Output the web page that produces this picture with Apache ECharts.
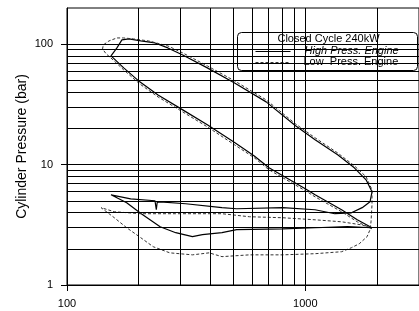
<!DOCTYPE html>
<html>
<head>
    <meta charset="utf-8">
    <script type="text/javascript" src="https://cdn.jsdelivr.net/npm/echarts@6/dist/echarts.min.js"></script>
    <style>
        body { margin: 0; background: #fff; }
        #main { width: 419px; height: 311px; }
    </style>
</head>
<body>
<div id="main"></div>
<script type="text/javascript">
    // High Press. Engine (solid) - volume / pressure
    var hpV = [1905, 1652, 1420, 1099, 1000, 704, 611, 505, 388, 306, 241, 202, 173, 153,
        162, 170, 182, 204, 234, 265, 306, 388, 505, 685, 910, 1099, 1367, 1606, 1799, 1905, 1869, 1733, 1561, 1329,
        1099, 804, 515, 447, 315, 246, 239, 237, 234, 185, 153,
        178, 205, 246, 286, 336, 370, 447, 515, 804, 1099, 1503, 1905];
    var hpP = [2.99, 3.48, 4.22, 5.61, 6.30, 9.41, 11.8, 15.3, 21.4, 28.5, 37.9, 48.7, 63.6, 80.0,
        93.2, 108.6, 110.7, 106.5, 102.5, 93.2, 81.5, 63.6, 47.7, 33.2, 21.0, 16.1, 12.06, 9.41, 7.48, 5.95, 4.91, 4.39, 3.98, 3.91,
        4.22, 4.39, 4.30, 4.39, 4.73, 4.91, 4.85, 4.22, 5.01, 5.20, 5.61,
        4.82, 3.91, 3.05, 2.72, 2.52, 2.62, 2.72, 2.88, 2.93, 2.99, 3.05, 2.99];

    // Low Press. Engine (dashed)
    var lpV = [1905, 1652, 1420, 1099, 1000, 704, 611, 505, 388, 306, 241, 202, 173, 153,
        146, 141, 142, 150, 162, 173, 190, 220, 265, 306, 388, 505, 685, 910, 1099, 1367, 1606, 1799, 1905,
        1905, 1887, 1869, 1816, 1684, 1561, 1420,
        1099, 804, 583, 447, 395, 336, 270, 230, 204, 178, 158, 139,
        158, 204, 286, 447, 583, 804, 1099, 1420, 1717, 1905];
    var lpP = [2.93, 3.35, 4.06, 5.40, 6.07, 9.06, 11.4, 14.6, 20.6, 27.4, 36.5, 46.8, 61.2, 76.8,
        83.1, 91.4, 98.7, 106.5, 112.8, 112.8, 110.7, 106.5, 96.8, 84.7, 66.1, 49.6, 34.5, 21.8, 16.7, 12.5, 9.78, 7.93, 6.18,
        4.64, 3.35, 2.88, 2.52, 2.20, 2.04, 1.89,
        1.82, 1.78, 1.78, 1.72, 1.85, 1.78, 1.85, 2.08, 2.47, 2.99, 3.62, 4.39,
        4.06, 3.91, 3.91, 3.91, 3.69, 3.62, 3.48, 3.35, 3.16, 2.99];

    // grid lines and tick labels
    var xGridVals = [200, 300, 400, 500, 600, 700, 800, 900, 1000, 2000];
    var yGridVals = [2, 3, 4, 5, 6, 7, 8, 9, 10, 20, 30, 40, 50, 60, 70, 80, 90, 100];
    var xTicks = [100, 1000];
    var yTicks = [1, 10, 100];

    function pairs(v, p) {
        var out = [];
        for (var i = 0; i < v.length; i++) {
            out.push([v[i], p[i]]);
        }
        return out;
    }

    var gridLines = [];
    for (var i = 0; i < xGridVals.length; i++) gridLines.push({xAxis: xGridVals[i]});
    for (var j = 0; j < yGridVals.length; j++) gridLines.push({yAxis: yGridVals[j]});

    var font = 'Liberation Sans, Arial, sans-serif';
    var myChart = echarts.init(document.getElementById('main'));
    var option = {
        animation: false,
        backgroundColor: '#fff',
        grid: {
            left: 67, top: 8, width: 359, height: 277,
            show: true, borderColor: '#000', borderWidth: 1
        },
        xAxis: {
            type: 'log', logBase: 10, min: 100, max: 3000,
            axisLine: {lineStyle: {color: '#000', width: 1}},
            axisTick: {customValues: xTicks, length: 6, lineStyle: {color: '#000'}},
            axisLabel: {
                customValues: xTicks, color: '#000', fontSize: 11, fontFamily: font, margin: 13,
                formatter: function (v) { return String(v); }
            },
            splitLine: {show: false},
            minorSplitLine: {show: false}
        },
        yAxis: {
            type: 'log', logBase: 10, min: 1, max: 200,
            name: 'Cylinder Pressure (bar)',
            nameLocation: 'middle',
            nameGap: 38,
            nameMoveOverlap: false,
            nameTextStyle: {color: '#000', fontSize: 14, fontFamily: font},
            axisLine: {lineStyle: {color: '#000', width: 1}},
            axisTick: {customValues: yTicks, length: 6, lineStyle: {color: '#000'}},
            axisLabel: {
                customValues: yTicks, color: '#000', fontSize: 11, fontFamily: font, margin: 14,
                formatter: function (v) { return String(v); }
            },
            splitLine: {show: false}
        },
        series: [{
            type: 'line',
            data: [],
            z: 1,
            silent: true,
            markLine: {
                silent: true,
                symbol: ['none', 'none'],
                label: {show: false},
                lineStyle: {type: 'solid', color: '#000', width: 1},
                emphasis: {disabled: true},
                data: gridLines
            }
        }, {
            name: 'High Press. Engine',
            type: 'line',
            z: 3,
            showSymbol: false,
            data: pairs(hpV, hpP),
            lineStyle: {color: '#000', width: 1.2}
        }, {
            name: 'Low  Press. Engine',
            type: 'line',
            z: 3,
            showSymbol: false,
            data: pairs(lpV, lpP),
            lineStyle: {color: '#333', width: 1, type: [3, 2]}
        }],
        graphic: [{
            type: 'group',
            left: 237, top: 32,
            z: 100,
            children: [{
                type: 'rect',
                shape: {x: 0, y: 0, width: 180, height: 38, r: 4},
                style: {fill: '#fff', stroke: '#000', lineWidth: 1}
            }, {
                type: 'text',
                x: 91, y: 1,
                style: {text: 'Closed Cycle 240kW', fill: '#000', font: '11px ' + font, textAlign: 'center'}
            }, {
                type: 'line',
                shape: {x1: 18, y1: 19, x2: 53, y2: 19},
                style: {stroke: '#000', lineWidth: 1.2}
            }, {
                type: 'text',
                x: 67, y: 13,
                style: {text: 'High Press. Engine', fill: '#000', font: 'italic 11px ' + font}
            }, {
                type: 'line',
                shape: {x1: 18, y1: 30, x2: 53, y2: 30},
                style: {stroke: '#333', lineWidth: 1, lineDash: [3, 2]}
            }, {
                type: 'text',
                x: 66, y: 24,
                style: {text: 'Low  Press. Engine', fill: '#000', font: '11px ' + font}
            }]
        }]
    };
    myChart.setOption(option);
</script>
</body>
</html>
